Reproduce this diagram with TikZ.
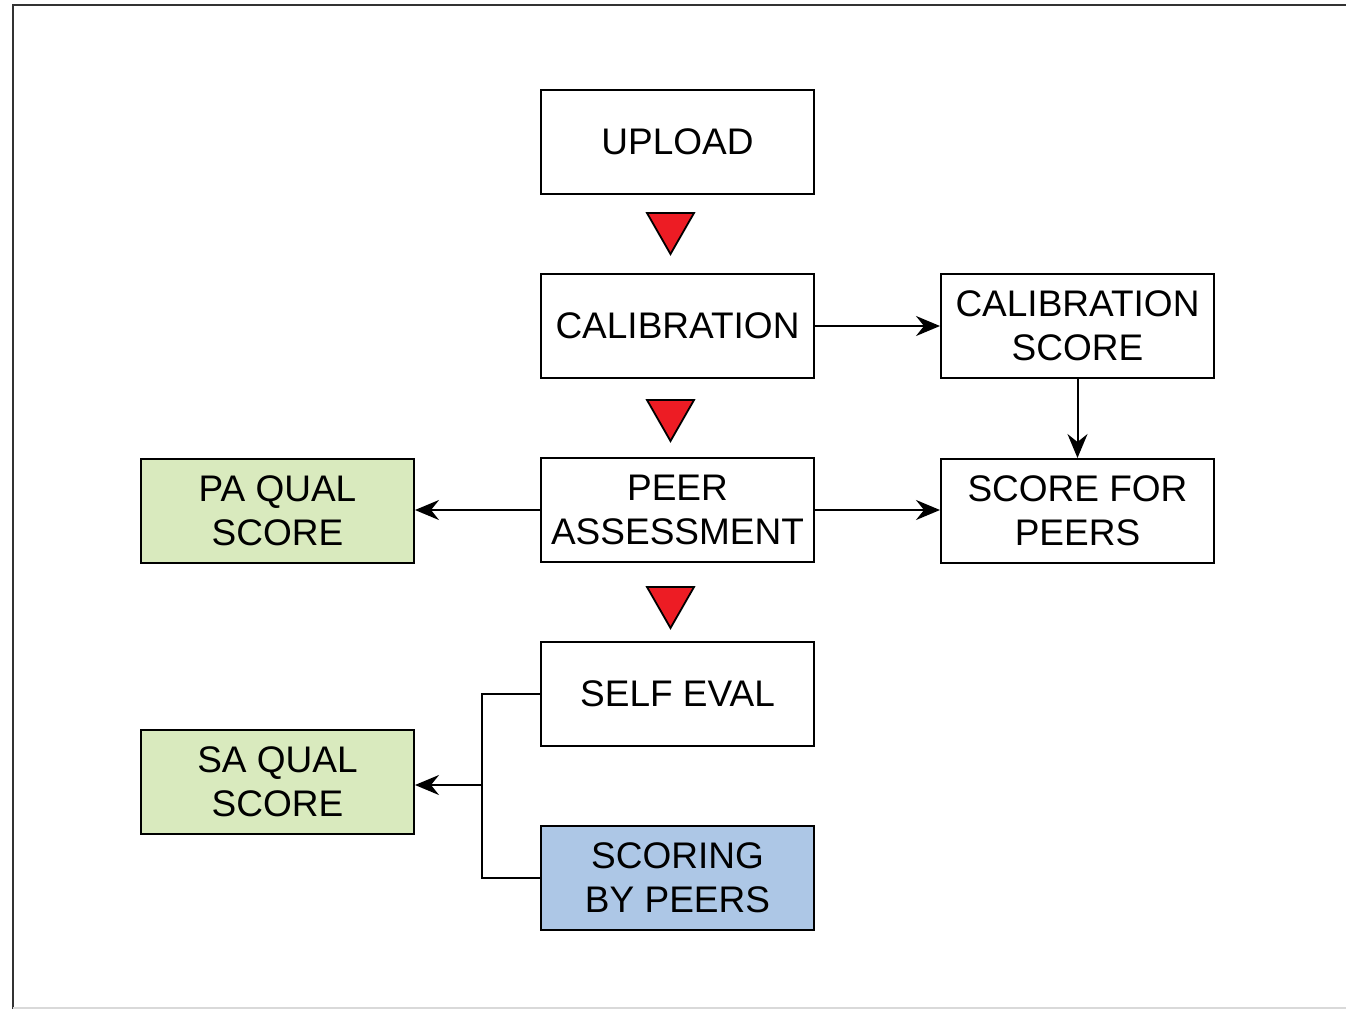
\documentclass[tikz,border=0pt]{standalone}
\usepackage{fontspec}
\setmainfont{Liberation Sans}
\usetikzlibrary{arrows.meta}
\definecolor{qgreen}{RGB}{217,234,190}
\definecolor{qblue}{RGB}{173,199,230}
\definecolor{qred}{RGB}{237,28,36}
\begin{document}
\begin{tikzpicture}[x=0.5pt,y=-0.5pt,
  box/.style={draw=black,line width=1pt,minimum width=136.5pt,minimum height=52pt,inner sep=0pt,align=center,font=\fontsize{18.5}{22}\selectfont},
  conn/.style={line width=1pt,-{Stealth[length=12pt,width=10pt,inset=4pt]}},
  tri/.style={fill=qred,draw=black,line width=0.9pt,line join=miter}]
\useasboundingbox (0,0) rectangle (1346,1009);
\draw[line width=1pt,black!80] (13,1009) -- (13,5) -- (1346,5);
\draw[line width=0.8pt,black!15] (13,1008) -- (1346,1008);
\node[box] (up) at (677.5,142) {UPLOAD};
\node[box] (cal) at (677.5,326) {CALIBRATION};
\node[box] (cs) at (1077.5,326) {CALIBRATION\\SCORE};
\node[box] (pa) at (677.5,510) {PEER\\ASSESSMENT};
\node[box] (sfp) at (1077.5,511) {SCORE FOR\\PEERS};
\node[box,fill=qgreen] (paq) at (277.5,511) {PA QUAL\\SCORE};
\node[box] (se) at (677.5,694) {SELF EVAL};
\node[box,fill=qgreen] (saq) at (277.5,782) {SA QUAL\\SCORE};
\node[box,fill=qblue] (sbp) at (677.5,878) {SCORING\\BY PEERS};
\draw[tri] (647,213) -- (694,213) -- (670.5,254) -- cycle;
\draw[tri] (647,400) -- (694,400) -- (670.5,441) -- cycle;
\draw[tri] (647,587) -- (694,587) -- (670.5,628) -- cycle;
\draw[conn] (cal.east) -- (cs.west);
\draw[conn] (cs.south) -- (sfp.north);
\draw[conn] (pa.east) -- (pa.east -| sfp.west);
\draw[conn] (pa.west) -- (pa.west -| paq.east);
\coordinate (j) at (482,785);
\draw[line width=1pt] (se.west) -- (se.west -| j) -- (sbp.west -| j) -- (sbp.west);
\draw[conn] (j) -- (j -| saq.east);
\end{tikzpicture}
\end{document}
